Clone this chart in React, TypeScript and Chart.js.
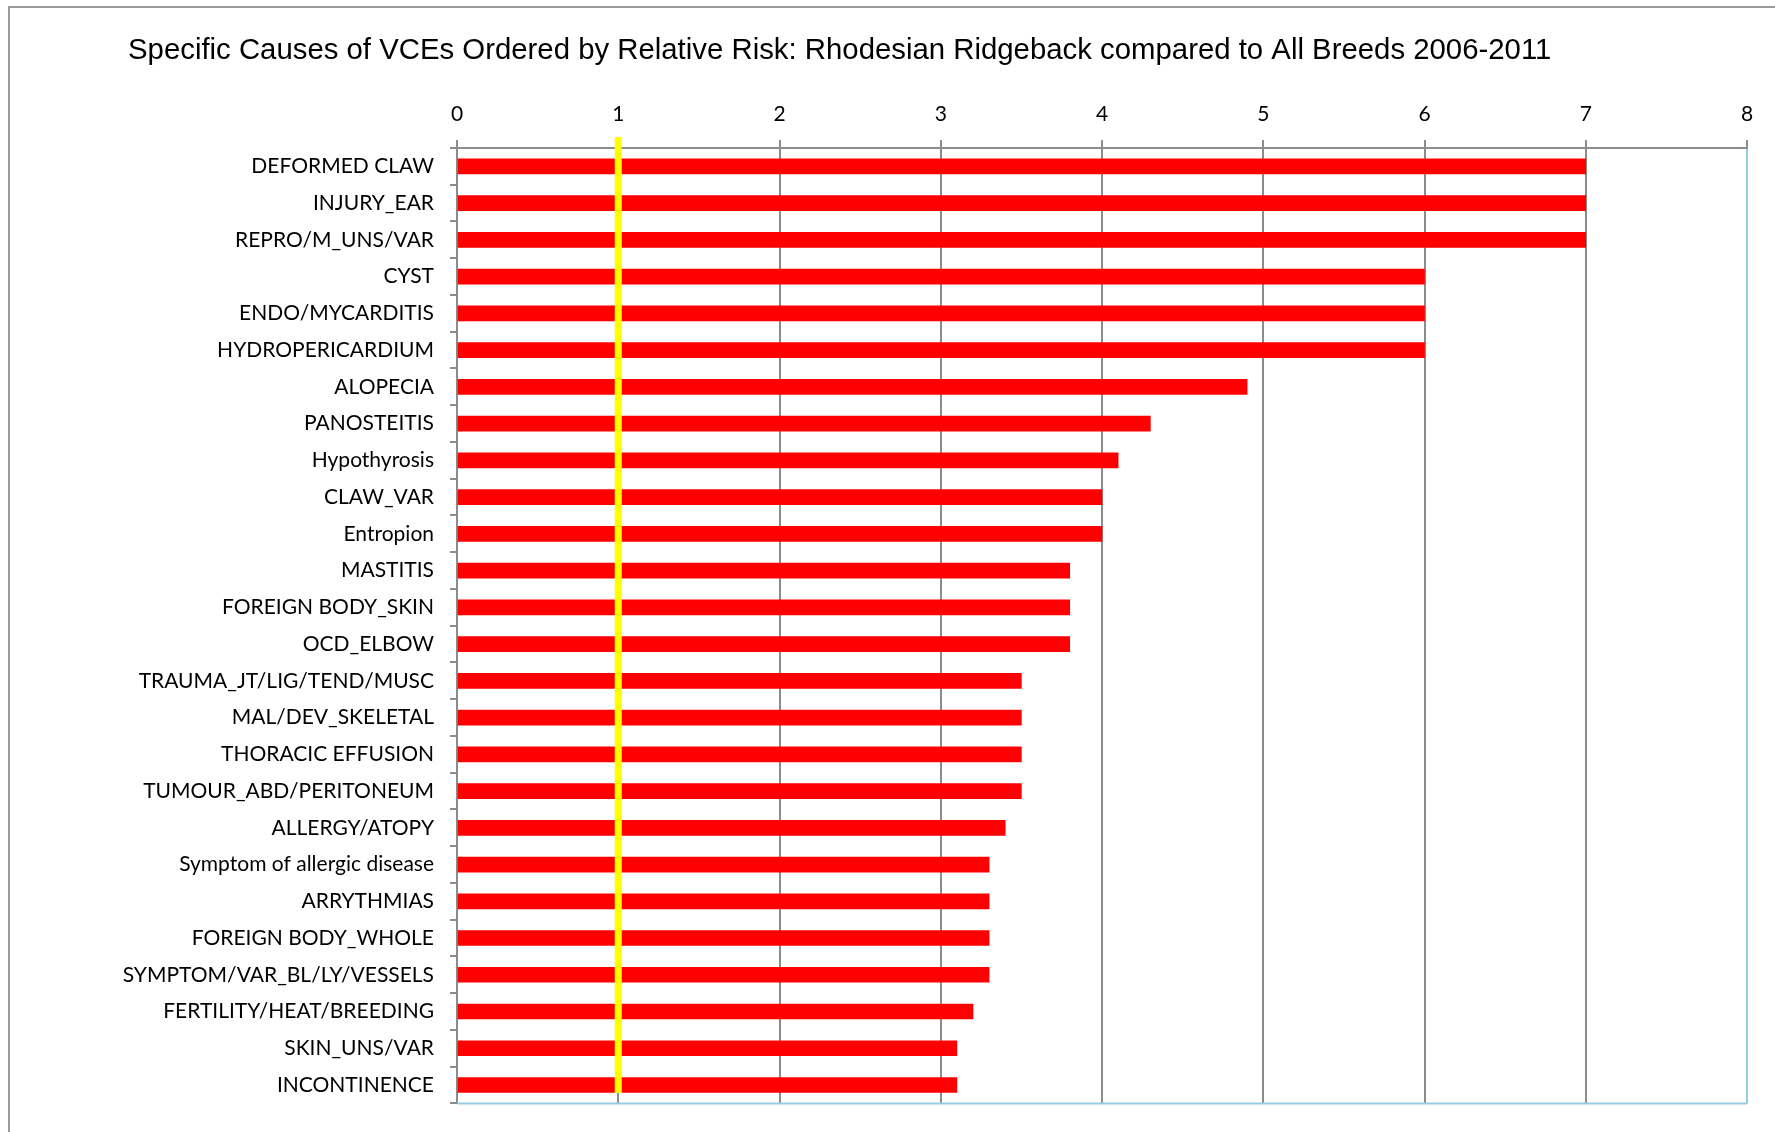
import React, { useEffect, useRef } from 'react';
import { Chart, registerables } from 'chart.js';

Chart.register(...registerables);

const TITLE =
  'Specific Causes of VCEs Ordered by Relative Risk: Rhodesian Ridgeback compared to All Breeds 2006-2011';

const categories = [
  'DEFORMED CLAW',
  'INJURY_EAR',
  'REPRO/M_UNS/VAR',
  'CYST',
  'ENDO/MYCARDITIS',
  'HYDROPERICARDIUM',
  'ALOPECIA',
  'PANOSTEITIS',
  'Hypothyrosis',
  'CLAW_VAR',
  'Entropion',
  'MASTITIS',
  'FOREIGN BODY_SKIN',
  'OCD_ELBOW',
  'TRAUMA_JT/LIG/TEND/MUSC',
  'MAL/DEV_SKELETAL',
  'THORACIC EFFUSION',
  'TUMOUR_ABD/PERITONEUM',
  'ALLERGY/ATOPY',
  'Symptom of allergic disease',
  'ARRYTHMIAS',
  'FOREIGN BODY_WHOLE',
  'SYMPTOM/VAR_BL/LY/VESSELS',
  'FERTILITY/HEAT/BREEDING',
  'SKIN_UNS/VAR',
  'INCONTINENCE',
];

const relativeRisk = [
  7, 7, 7, 6, 6, 6, 4.9, 4.3, 4.1, 4, 4, 3.8, 3.8, 3.8, 3.5, 3.5, 3.5, 3.5, 3.4,
  3.3, 3.3, 3.3, 3.3, 3.2, 3.1, 3.1,
];

const xAxisMin = 0;
const xAxisMax = 8;
const xAxisStep = 1;

// Reference line at relative risk = 1; vertical extent given in category-index units
const referenceRisk = 1;
const referenceSpan = [-0.8, 25.22];

const GRID_GRAY = '#8c8c8c';
const PLOT_BLUE = '#93cddd';
const W = 1775;
const H = 1132;

export default function App() {
  const canvasRef = useRef<HTMLCanvasElement>(null);

  useEffect(() => {
    if (!canvasRef.current) return;

    const decorPlugin = {
      id: 'decor',
      beforeDraw(chart: any) {
        const { ctx, width, height } = chart;
        ctx.save();
        ctx.fillStyle = '#ffffff';
        ctx.fillRect(0, 0, width, height);
        ctx.strokeStyle = '#9a9a9a';
        ctx.lineWidth = 2;
        ctx.beginPath();
        ctx.moveTo(9, height);
        ctx.lineTo(9, 7);
        ctx.lineTo(width, 7);
        ctx.stroke();
        ctx.fillStyle = '#000000';
        ctx.font = '29.35px "Liberation Sans", Arial, sans-serif';
        ctx.textAlign = 'left';
        ctx.textBaseline = 'alphabetic';
        ctx.fillText(TITLE, 128, 59);
        ctx.restore();
      },
      beforeDatasetsDraw(chart: any) {
        const { ctx, chartArea } = chart;
        ctx.save();
        ctx.strokeStyle = PLOT_BLUE;
        ctx.lineWidth = 2;
        ctx.beginPath();
        ctx.moveTo(chartArea.left, chartArea.bottom);
        ctx.lineTo(chartArea.right, chartArea.bottom);
        ctx.stroke();
        ctx.restore();
      },
      afterDatasetsDraw(chart: any) {
        const { ctx, scales } = chart;
        const x = scales.x.getPixelForValue(referenceRisk);
        const y0 = scales.y.getPixelForValue(referenceSpan[0]);
        const y1 = scales.y.getPixelForValue(referenceSpan[1]);
        ctx.save();
        ctx.strokeStyle = '#ffff00';
        ctx.lineWidth = 7;
        ctx.lineCap = 'butt';
        ctx.beginPath();
        ctx.moveTo(x, y0);
        ctx.lineTo(x, y1);
        ctx.stroke();
        ctx.restore();
      },
    };

    const chart = new Chart(canvasRef.current, {
      type: 'bar',
      data: {
        labels: categories,
        datasets: [
          {
            label: 'Relative risk',
            data: relativeRisk,
            backgroundColor: '#ff0000',
            borderWidth: 0,
            barThickness: 15,
          },
        ],
      },
      options: {
        indexAxis: 'y',
        animation: false,
        responsive: false,
        devicePixelRatio: 1,
        layout: { padding: { left: 0, top: 0, right: 28, bottom: 24 } },
        plugins: {
          legend: { display: false },
          tooltip: { enabled: false },
          title: { display: false },
        },
        scales: {
          x: {
            type: 'linear',
            position: 'top',
            min: xAxisMin,
            max: xAxisMax,
            ticks: {
              stepSize: xAxisStep,
              color: '#000000',
              padding: 13,
              font: { family: 'Lato', size: 21 },
            },
            grid: {
              color: (c: any) => (c.tick && c.tick.value === xAxisMax ? PLOT_BLUE : GRID_GRAY),
              tickColor: GRID_GRAY,
              lineWidth: 2,
              tickLength: 8,
            },
            border: { display: true, color: GRID_GRAY, width: 2 },
            afterFit: (scale: any) => {
              scale.height = 148;
            },
          },
          y: {
            type: 'category',
            position: 'left',
            ticks: {
              color: '#000000',
              padding: 16,
              autoSkip: false,
              font: { family: 'Lato', size: 21 },
            },
            grid: {
              offset: true,
              drawOnChartArea: false,
              color: GRID_GRAY,
              tickColor: GRID_GRAY,
              lineWidth: 2,
              tickLength: 7,
            },
            border: { display: true, color: GRID_GRAY, width: 2 },
            afterFit: (scale: any) => {
              scale.width = 457;
            },
          },
        },
      } as any,
      plugins: [decorPlugin],
    });

    return () => chart.destroy();
  }, []);

  return (
    <div
      style={{
        position: 'fixed',
        left: 0,
        top: 0,
        width: W,
        height: H,
        background: '#ffffff',
      }}
    >
      <canvas ref={canvasRef} width={W} height={H} style={{ display: 'block', width: W, height: H }} />
    </div>
  );
}
